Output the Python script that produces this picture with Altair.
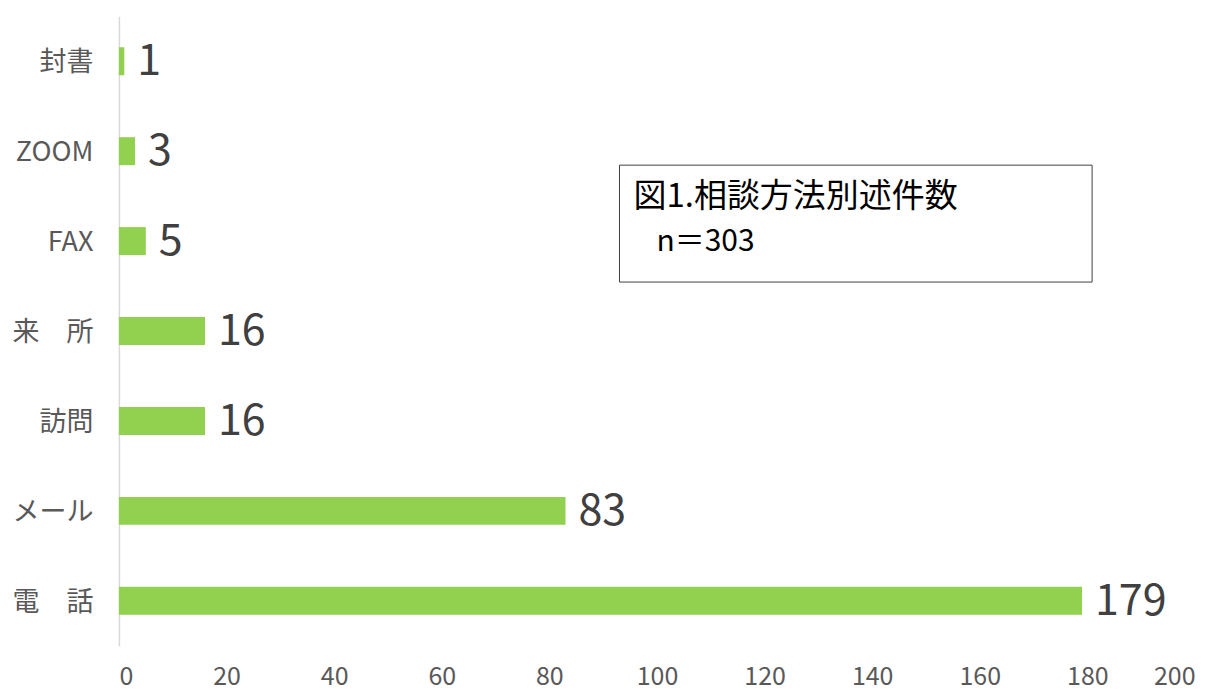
import altair as alt
import pandas as pd

categories = ["封書", "ZOOM", "FAX", "来　所", "訪問", "メール", "電　話"]
counts = [1, 3, 5, 16, 16, 83, 179]
x_ticks = [0, 20, 40, 60, 80, 100, 120, 140, 160, 180, 200]
title_line1 = "図1.相談方法別述件数"
title_line2 = "n＝303"

df = pd.DataFrame({"category": categories, "count": counts})
FONT = "Noto Sans CJK JP"

base = alt.Chart(df)

bars = base.mark_bar(color="#92D050", size=28).encode(
    y=alt.Y("category:N", sort=categories,
            scale=alt.Scale(paddingInner=0.69, paddingOuter=0.345),
            axis=alt.Axis(title=None, ticks=False, domainColor="#d9d9d9", domainWidth=1.5,
                          labelFont=FONT, labelFontSize=27, labelColor="#595959",
                          labelPadding=26, labelBaseline="middle", labelOffset=2, grid=False)),
    x=alt.X("count:Q", scale=alt.Scale(domain=[0, 200], nice=False),
            axis=alt.Axis(title=None, values=x_ticks, ticks=False, domain=False, grid=False,
                          labelFont=FONT, labelFontSize=25, labelColor="#595959",
                          labelPadding=31, labelBaseline="middle")),
)

labels = base.mark_text(align="left", baseline="middle", dx=13, dy=1,
                        font=FONT, fontSize=43, color="#404040").encode(
    y=alt.Y("category:N", sort=categories),
    x="count:Q",
    text="count:Q",
)

box = alt.Chart(pd.DataFrame({"a": [0]})).mark_rect(
    fill="white", stroke="#404040", strokeWidth=1
).encode(x=alt.value(501), x2=alt.value(974), y=alt.value(149), y2=alt.value(266))

t1 = alt.Chart(pd.DataFrame({"t": [title_line1]})).mark_text(
    align="left", baseline="middle", font=FONT, fontSize=33, color="#000000"
).encode(x=alt.value(515), y=alt.value(181), text="t:N")

t2 = alt.Chart(pd.DataFrame({"t": [title_line2]})).mark_text(
    align="left", baseline="middle", font=FONT, fontSize=30, color="#000000"
).encode(x=alt.value(538), y=alt.value(226), text="t:N")

chart = alt.layer(bars, labels, box, t1, t2).properties(
    width=1077, height=630,
    autosize=alt.AutoSizeParams(type="none"),
    padding={"left": 111, "top": 8, "right": 20, "bottom": 45},
).configure_view(stroke=None)

chart.save("out.html", embed_options={"renderer": "svg", "actions": False})
